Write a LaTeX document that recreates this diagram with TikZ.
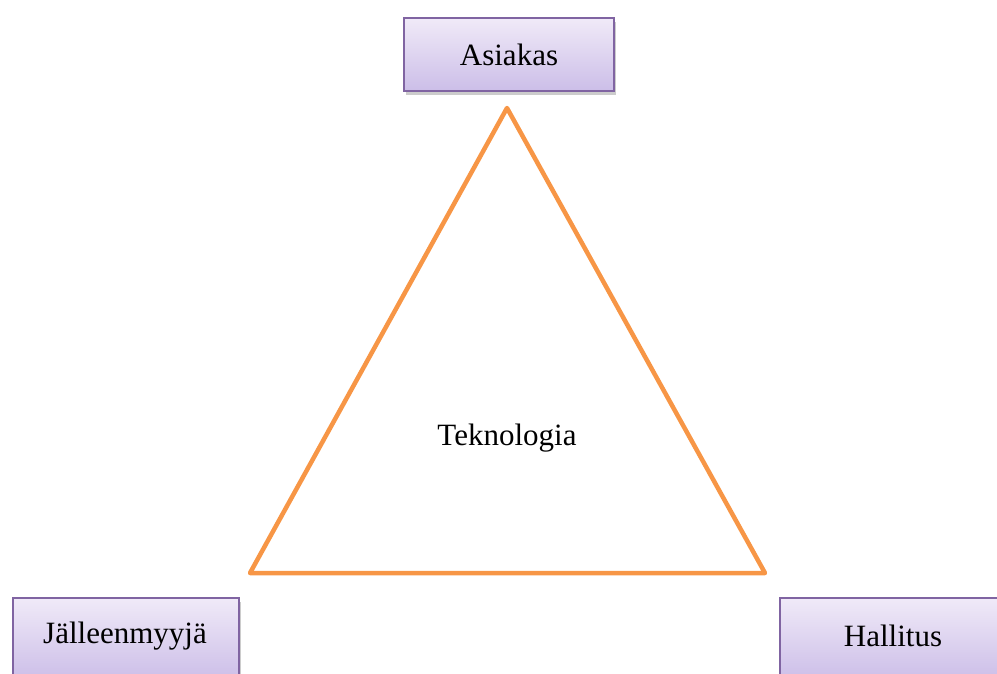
\documentclass[tikz,border=0pt]{standalone}
\usepackage{fontspec}
\setmainfont{Liberation Serif}
\usetikzlibrary{shadows}
\definecolor{boxtop}{HTML}{F0EAF8}
\definecolor{boxbot}{HTML}{CCBEE8}
\definecolor{boxline}{HTML}{8064A2}
\definecolor{tri}{HTML}{F79646}
\begin{document}
\begin{tikzpicture}[x=1pt,y=-1pt,
  pbox/.style={draw=boxline, line width=2pt, top color=boxtop, bottom color=boxbot,
    drop shadow={opacity=0.4, shadow xshift=2pt, shadow yshift=-4pt},
    font=\fontsize{31}{36}\selectfont, inner sep=0pt, anchor=north west},
  lbl/.style={font=\fontsize{31}{36}\selectfont, inner sep=0pt}]
\useasboundingbox (0,0) rectangle (997,673);
\clip (0,0) rectangle (997,673);
\node[pbox, minimum width=210pt, minimum height=73pt] (asiakas) at (403,17) {Asiakas};
\node[pbox, minimum width=226pt, minimum height=82pt] (jalleen) at (12,597) {};
\node[lbl] at (125,636) {Jälleenmyyjä};
\node[pbox, minimum width=226pt, minimum height=82pt] (hallitus) at (779,597) {};
\node[lbl] at (893,636) {Hallitus};
\coordinate (apex) at (507,108);
\coordinate (bl) at (250,573);
\coordinate (br) at (765,573);
\draw[tri, line width=4.5pt, line join=round, line cap=round] (apex) -- (br) -- (bl) -- cycle;
\node[lbl] (tek) at (507,438) {Teknologia};
\end{tikzpicture}
\end{document}
